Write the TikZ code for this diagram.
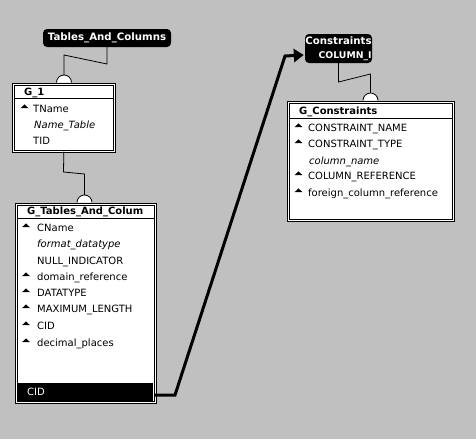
\documentclass[tikz,border=0pt]{standalone}
\usepackage{fontspec}
\setmainfont{DejaVu Sans}
\usetikzlibrary{arrows.meta}
\definecolor{bg}{RGB}{192,192,192}
\tikzset{
  hdr/.style={fill=black, text=white, rounded corners=4pt, inner sep=0pt,
    font=\fontsize{10.2}{14}\selectfont\bfseries},
  tbl/.style={draw=black, double=white, double distance=1.6pt, line width=0.7pt,
    fill=white, anchor=north west, inner sep=0pt},
  ttl/.style={anchor=west, inner sep=0pt, text height=7.4pt, text depth=0pt,
    font=\fontsize{10}{12}\selectfont\bfseries},
  row/.style={anchor=west, inner sep=0pt, text height=7.3pt, text depth=0pt,
    font=\fontsize{10}{12}\selectfont},
  irow/.style={row, font=\fontsize{10}{12}\selectfont\itshape},
  sepline/.style={draw=black, line width=0.8pt},
  link/.style={draw=black, line width=0.8pt},
  cup/.style={draw=black, fill=white, line width=0.8pt},
  rel/.style={draw=black, line width=3pt, line join=miter,
    -{Triangle[length=10pt,width=13pt]}},
  cidbar/.style={fill=black, inner sep=0pt, minimum width=135pt, minimum height=18pt}
}
\newcommand{\mytri}[2]{\fill[black] (#1-4,#2-0.8) -- (#1+4,#2-0.8) -- (#1,#2-4.6) -- cycle;}
\begin{document}
\begin{tikzpicture}[x=1pt,y=-1pt]
  \fill[bg] (0,0) rectangle (476,439);
  \useasboundingbox (0,0) rectangle (476,439);

  % header nodes
  \node[hdr, minimum width=128pt, minimum height=18pt] (tac) at (107,38) {Tables\_And\_Columns};
  \node[hdr, minimum width=67pt, minimum height=29pt, align=right] (cons) at (338.5,48.5)
    {Constraints\\{\fontsize{9.3}{14}\selectfont COLUMN\_I}};

  % G_1 table
  \node[tbl, minimum width=101pt, minimum height=67pt] (g1) at (13,84) {};
  \draw[sepline] (14,98) -- (113,98);
  \node[ttl] (g1t) at (24,91.5) {G\_1};
  \mytri{24.5}{109}
  \node[row] (g1r1) at (33,109) {TName};
  \node[irow] (g1r2) at (34,125) {Name\_Table};
  \node[row] (g1r3) at (33,141) {TID};

  % G_Tables_And_Colum table
  \node[tbl, minimum width=139pt, minimum height=198pt] (gtc) at (16,204) {};
  \draw[sepline] (17,218) -- (154,218);
  \node[ttl] (gtct) at (27,211) {G\_Tables\_And\_Colum};
  \mytri{26}{228}
  \node[row] (gr1) at (37,228) {CName};
  \node[irow] (gr2) at (37,244) {format\_datatype};
  \node[row] (gr3) at (37,261) {NULL\_INDICATOR};
  \mytri{26}{277}
  \node[row] (gr4) at (37,277) {domain\_reference};
  \mytri{26}{293}
  \node[row] (gr5) at (37,293) {DATATYPE};
  \mytri{26}{309}
  \node[row] (gr6) at (37,309) {MAXIMUM\_LENGTH};
  \mytri{26}{326}
  \node[row] (gr7) at (37,326) {CID};
  \mytri{26}{343}
  \node[row] (gr8) at (37,343) {decimal\_places};
  \node[cidbar] (cid) at (85.5,392) {};
  \node[row, text=white] (cidt) at (27,392) {CID};

  % G_Constraints table
  \node[tbl, minimum width=165pt, minimum height=118pt] (gc) at (288,102) {};
  \draw[sepline] (289,118) -- (452,118);
  \node[ttl] (gct) at (299,111) {G\_Constraints};
  \mytri{298.5}{128}
  \node[row] (cr1) at (308,128) {CONSTRAINT\_NAME};
  \mytri{298.5}{144}
  \node[row] (cr2) at (308,144) {CONSTRAINT\_TYPE};
  \node[irow] (cr3) at (309,161) {column\_name};
  \mytri{298.5}{176}
  \node[row] (cr4) at (308,176) {COLUMN\_REFERENCE};
  \mytri{298.5}{193}
  \node[row] (cr5) at (308,193) {foreign\_column\_reference};

  % group connectors with cups
  \coordinate (cup1) at (64,82.5);
  \coordinate (cup2) at (84.5,202.5);
  \coordinate (cup3) at (370.5,100.5);
  \draw[link] (tac.south) -- (107,64) -- (64,55) -- ([yshift=7.5pt]cup1);
  \draw[cup] ([xshift=-7.5pt]cup1) arc[start angle=180, end angle=360, radius=7.5];
  \draw[link] (g1.south) -- (63.5,172) -- (84.5,174) -- ([yshift=7.5pt]cup2);
  \draw[cup] ([xshift=-7.5pt]cup2) arc[start angle=180, end angle=360, radius=7.5];
  \draw[link] (cons.south) -- (338.5,82) -- (370.5,74) -- ([yshift=7.5pt]cup3);
  \draw[cup] ([xshift=-7.5pt]cup3) arc[start angle=180, end angle=360, radius=7.5];

  % relation arrow
  \draw[rel] ([shift={(1,3)}]cid.east) -- (175,395) -- (285,56) -- ([shift={(-1,6.5)}]cons.west);
\end{tikzpicture}
\end{document}
